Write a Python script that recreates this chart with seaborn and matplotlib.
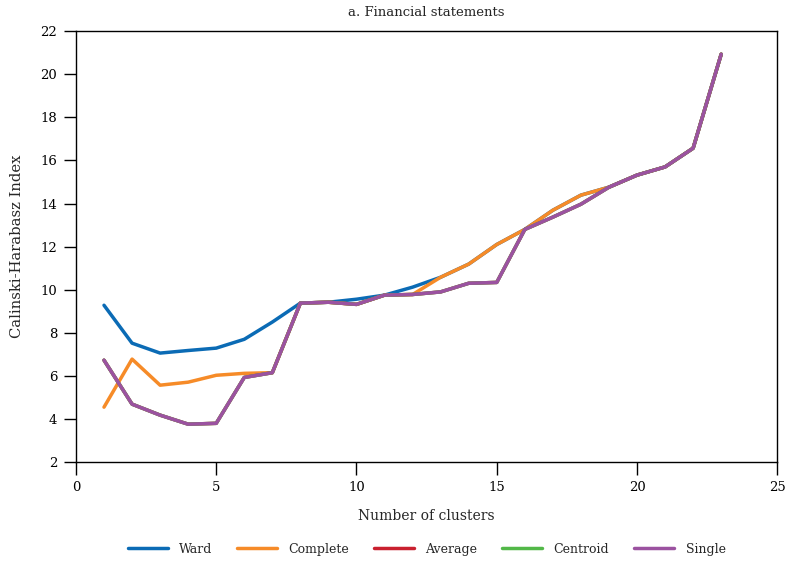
import numpy as np
import pandas as pd
import matplotlib
matplotlib.use("Agg")
import matplotlib.pyplot as plt
import seaborn as sns

# Calinski-Harabasz index by number of clusters, per linkage method
clusters = list(range(1, 24))
ward = [9.28, 7.52, 7.06, 7.18, 7.29, 7.70, 8.50, 9.38, 9.42, 9.56, 9.75, 10.12, 10.58,
        11.19, 12.10, 12.80, 13.69, 14.39, 14.76, 15.32, 15.70, 16.57, 20.93]
complete = [4.55, 6.78, 5.57, 5.71, 6.03, 6.12, 6.15, 9.38, 9.42, 9.32, 9.75, 9.78, 10.58,
            11.19, 12.10, 12.80, 13.69, 14.39, 14.76, 15.32, 15.70, 16.57, 20.93]
single = [6.73, 4.69, 4.18, 3.76, 3.80, 5.93, 6.15, 9.38, 9.42, 9.32, 9.75, 9.78, 9.90,
          10.30, 10.34, 12.80, 13.37, 13.97, 14.76, 15.32, 15.70, 16.57, 20.93]
# average and centroid sit under the single-linkage line
average = single
centroid = single

methods = ["Ward", "Complete", "Average", "Centroid", "Single"]
colors = ["#0b6bb5", "#f68b28", "#c9202f", "#52b848", "#9b52a0"]

df = pd.concat([
    pd.DataFrame({"clusters": clusters, "chi": vals, "method": name})
    for name, vals in zip(methods, [ward, complete, average, centroid, single])
])

sns.set_style("ticks")
plt.rcParams["font.family"] = ["DejaVu Serif"]

fig = plt.figure(figsize=(8.08, 5.67), dpi=100)
ax = fig.add_axes([0.094, 0.185, 0.868, 0.760])

sns.lineplot(data=df, x="clusters", y="chi", hue="method", hue_order=methods,
             palette=colors, linewidth=2.5, ax=ax, legend=True)

ax.set_xlim(0, 25)
ax.set_ylim(2, 22)
ax.set_xticks(range(0, 26, 5))
ax.set_yticks(range(2, 23, 2))
ax.tick_params(labelsize=9.5, length=9, width=1, pad=4.5, colors="black")
for s in ax.spines.values():
    s.set_visible(True)
    s.set_linewidth(1)
    s.set_color("black")

ax.set_xlabel("Number of clusters", fontsize=10)
ax.set_ylabel("Calinski-Harabasz Index", fontsize=10.6)
ax.xaxis.set_label_coords(0.5, -0.109)
ax.yaxis.set_label_coords(-0.074, 0.5)
ax.set_title("a. Financial statements", fontsize=9.5, pad=11)

ax.legend(loc="center", bbox_to_anchor=(0.5, -0.202), ncol=5, frameon=False,
          fontsize=9, handlelength=3.2, columnspacing=2.0, handletextpad=0.9)

fig.savefig("out.png", dpi=100)
